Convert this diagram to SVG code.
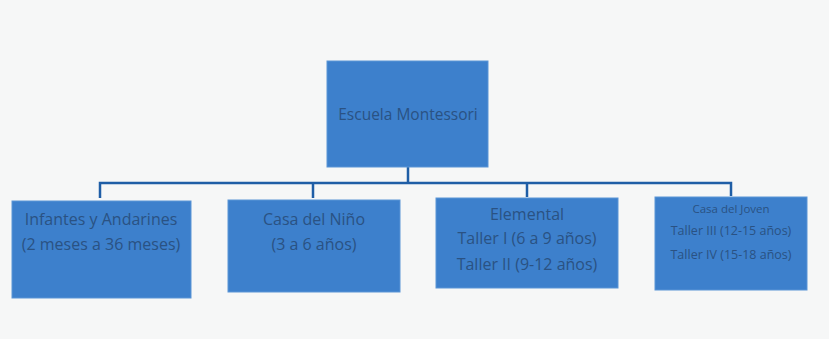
<svg xmlns="http://www.w3.org/2000/svg" width="829" height="339" viewBox="0 0 829 339">
<style>
.box{fill:#3d80cc;stroke:#5b95d6;stroke-width:1}
.t{font-family:"Open Sans","Liberation Sans",sans-serif;fill:#2a5283;text-anchor:middle}
.c{fill:none;stroke:#1f5ea6;stroke-width:2.5}
</style>
<rect x="0" y="0" width="829" height="339" fill="#f6f7f7"/>
<g id="connectors">
<path class="c" d="M408,167 V183 M100,198 V183 H731 V196 M313,183 V198 M527,183 V197"/>
</g>
<g id="root">
<rect class="box" x="327" y="61" width="161" height="106"/>
<text class="t" x="408" y="120" font-size="15.5">Escuela Montessori</text>
</g>
<g id="infantes">
<rect class="box" x="12" y="201" width="179" height="97"/>
<text class="t" x="101" y="225" font-size="16">Infantes y Andarines</text>
<text class="t" x="101" y="250" font-size="16">(2 meses a 36 meses)</text>
</g>
<g id="casa-nino">
<rect class="box" x="228" y="200" width="172" height="92"/>
<text class="t" x="314" y="225" font-size="16">Casa del Niño</text>
<text class="t" x="314" y="250" font-size="16">(3 a 6 años)</text>
</g>
<g id="elemental">
<rect class="box" x="436" y="198" width="182" height="90"/>
<text class="t" x="527" y="220" font-size="16">Elemental</text>
<text class="t" x="527" y="244" font-size="16">Taller I (6 a 9 años)</text>
<text class="t" x="527" y="270" font-size="16">Taller II (9-12 años)</text>
</g>
<g id="casa-joven">
<rect class="box" x="655" y="197" width="152" height="93"/>
<text class="t" x="731" y="213" font-size="11.5">Casa del Joven</text>
<text class="t" x="731" y="235" font-size="12.5">Taller III (12-15 años)</text>
<text class="t" x="731" y="259" font-size="12.5">Taller IV (15-18 años)</text>
</g>
</svg>
